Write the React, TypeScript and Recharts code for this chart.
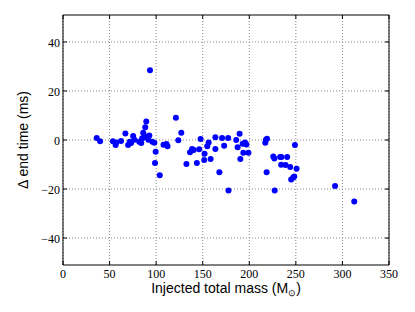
import {
  ScatterChart,
  Scatter,
  XAxis,
  YAxis,
  CartesianGrid,
  ReferenceArea,
} from "recharts";

// injected total mass (M_sun) and end-time difference (ms)
const mass = [
  36.2, 39.8, 53.6, 56.5, 57.2, 62.3, 67.0, 69.9, 71.7, 73.1, 75.3, 76.7,
  81.8, 84.0, 85.0, 86.1, 87.6, 88.3, 89.4, 90.5, 91.6, 92.7, 93.4, 95.9,
  98.1, 99.5, 98.8, 103.9, 107.9, 111.1, 112.2, 121.2, 123.8, 127.0, 132.5,
  136.4, 138.6, 140.4, 143.7, 146.2, 147.7, 152.0, 151.6, 154.9, 156.4, 158.5,
  163.6, 163.6, 167.9, 170.8, 173.0, 177.3, 177.7, 186.0, 187.5, 189.6, 190.4,
  192.9, 193.6, 195.4, 196.9, 199.1, 217.2, 217.9, 219.0, 218.6, 225.8, 226.9,
  227.3, 233.1, 234.2, 234.5, 238.9, 240.7, 243.9, 245.0, 247.2, 248.3, 249.0,
  250.8, 292.1, 312.7,
];
const deltaEnd = [
  0.8, -0.5, -0.5, -2.0, -1.0, -0.4, 2.7, -2.0, -0.7, -1.2, 1.6, 0.1,
  -0.7, -1.2, 0.7, 3.0, 1.1, 5.2, 7.5, 1.4, 0.1, 1.8, 28.5, -0.7,
  -1.1, -4.8, -9.4, -14.4, -1.9, -1.6, -2.5, 9.1, -0.1, 3.0, -9.8,
  -5.0, -3.7, -4.1, -9.4, -3.8, 0.4, -5.6, -8.2, -2.6, -1.0, -7.8,
  1.1, -3.7, -13.2, 0.8, -2.3, 0.8, -20.6, 0.0, -3.0, 2.5, -7.8,
  -1.5, -5.2, -1.0, -1.8, -5.2, -1.1, 0.1, 0.5, -13.2, -6.7, -7.5,
  -20.6, -6.9, -10.1, -6.9, -10.2, -6.9, -11.0, -16.1, -15.3, -14.9, -2.0,
  -11.7, -18.8, -25.1,
];

const xTicks = [0, 50, 100, 150, 200, 250, 300, 350];
const yTicks = [-40, -20, 0, 20, 40];

const points = mass.map((m, i) => ({ m, d: deltaEnd[i] }));

const W = 415;
const H = 312;
const M = { top: 15, right: 26, bottom: 17, left: 23 };
const plotTop = M.top;
const plotRight = W - M.right;

const serif = "'Liberation Serif', 'DejaVu Serif', serif";
const sans = "'Liberation Sans', Arial, sans-serif";

function XTick(props: any) {
  const { x, y, payload } = props;
  return (
    <g>
      <line x1={x} x2={x} y1={y} y2={y - 4} stroke="#000" />
      <line x1={x} x2={x} y1={plotTop} y2={plotTop + 4} stroke="#000" />
      <text x={x} y={y + 13} textAnchor="middle" style={{ fontFamily: serif, fontSize: 12 }} fill="#000">
        {payload.value}
      </text>
    </g>
  );
}

function YTick(props: any) {
  const { x, y, payload } = props;
  return (
    <g>
      <line x1={x} x2={x + 4} y1={y} y2={y} stroke="#000" />
      <line x1={plotRight} x2={plotRight - 4} y1={y} y2={y} stroke="#000" />
      <text x={x - 3} y={y + 5} textAnchor="end" style={{ fontFamily: serif, fontSize: 12 }} fill="#000">
        {String(payload.value).replace("-", "\u2212")}
      </text>
    </g>
  );
}

function XLabel(props: any) {
  const { viewBox } = props;
  const cx = viewBox.x + viewBox.width / 2;
  return (
    <text
      x={cx}
      y={viewBox.y + 28}
      textAnchor="middle"
      style={{ fontFamily: sans, fontSize: 14 }}
      fill="#000"
    >
      Injected total mass (M
      <tspan fontSize={9} dy={3}>
        ⊙
      </tspan>
      <tspan dy={-3}>)</tspan>
    </text>
  );
}

function YLabel(props: any) {
  const { viewBox } = props;
  const cy = viewBox.y + viewBox.height / 2;
  const x = 28;
  return (
    <text
      x={x}
      y={cy}
      transform={`rotate(-90 ${x} ${cy})`}
      textAnchor="middle"
      style={{ fontFamily: sans, fontSize: 14 }}
      fill="#000"
    >
      Δ end time (ms)
    </text>
  );
}

export default function App() {
  return (
    <div style={{ position: "absolute", left: 0, top: 0, background: "#fff" }}>
      <ScatterChart width={W} height={H} margin={M}>
        <CartesianGrid
          stroke="#888"
          strokeDasharray="1 2"
          horizontalValues={yTicks}
          verticalValues={xTicks}
        />
        <XAxis
          type="number"
          dataKey="m"
          domain={[0, 350]}
          ticks={xTicks}
          height={30}
          axisLine={false}
          tickLine={false}
          tickSize={0}
          tickMargin={0}
          tick={<XTick />}
          label={<XLabel />}
        />
        <YAxis
          type="number"
          dataKey="d"
          domain={[-51, 51]}
          ticks={yTicks}
          width={40}
          axisLine={false}
          tickLine={false}
          tickSize={0}
          tickMargin={0}
          tick={<YTick />}
          label={<YLabel />}
        />
        <ReferenceArea
          x1={0}
          x2={350}
          y1={-51}
          y2={51}
          fill="none"
          fillOpacity={0}
          stroke="#000"
          strokeWidth={1}
        />
        <Scatter
          data={points}
          fill="#0000ff"
          shape={(p: any) => <circle cx={p.cx} cy={p.cy} r={3} fill="#0000ff" />}
          isAnimationActive={false}
        />
      </ScatterChart>
    </div>
  );
}
